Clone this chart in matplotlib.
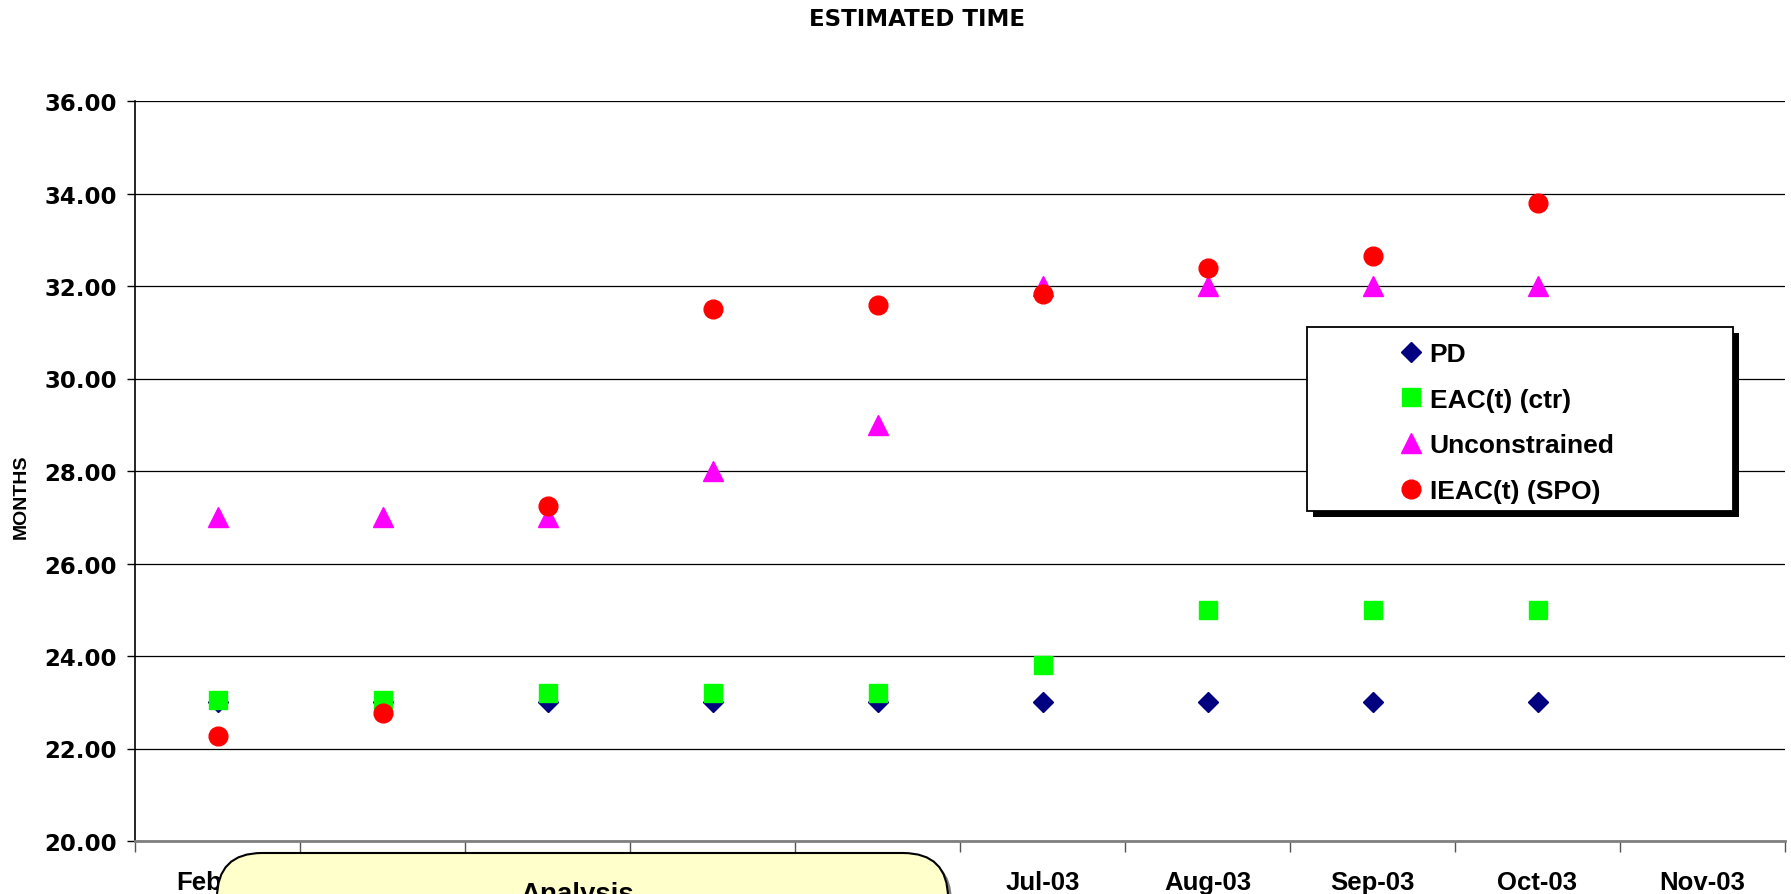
import numpy as np
import matplotlib.pyplot as plt
from matplotlib.patches import Rectangle, FancyBboxPatch
from matplotlib.transforms import IdentityTransform

months = ['Feb-03', 'Mar-03', 'Apr-03', 'May-03', 'Jun-03',
          'Jul-03', 'Aug-03', 'Sep-03', 'Oct-03', 'Nov-03']
pd_vals = [23.0, 23.0, 23.0, 23.0, 23.0, 23.0, 23.0, 23.0, 23.0]
eac_vals = [23.05, 23.05, 23.2, 23.2, 23.2, 23.8, 25.0, 25.0, 25.0]
unc_vals = [27.0, 27.0, 27.0, 28.0, 29.0, 32.0, 32.0, 32.0, 32.0]
ieac_vals = [22.27, 22.77, 27.25, 31.5, 31.58, 31.83, 32.4, 32.65, 33.8]

W, H = 1791, 895
fig = plt.figure(figsize=(W / 100, H / 100), dpi=100)
ax = fig.add_axes([135 / W, (H - 842) / H, 1650 / W, 740 / H])

ax.plot(range(len(pd_vals)), pd_vals, 'D', color='#000080', ms=10.5, label='PD', zorder=3)
ax.plot(range(len(eac_vals)), eac_vals, 's', color='#00FF00', ms=13.5, label='EAC(t) (ctr)', zorder=3)
ax.plot(range(len(unc_vals)), unc_vals, '^', color='#FF00FF', ms=15, label='Unconstrained', zorder=3)
ax.plot(range(len(ieac_vals)), ieac_vals, 'o', color='#FF0000', ms=13.5, label='IEAC(t) (SPO)', zorder=3)

ax.set_ylim(20, 36)
ax.set_xlim(-0.5, len(months) - 0.5)
ax.set_yticks(np.arange(20, 37, 2))
ax.set_yticklabels(['%.2f' % v for v in np.arange(20, 37, 2)],
                   fontfamily='DejaVu Sans', fontweight='bold', fontsize=16.5)
ax.yaxis.grid(True, color='black', lw=0.9)
ax.set_axisbelow(True)
ax.tick_params(axis='y', length=6, width=1, pad=7)

ax.set_xticks(range(len(months)))
ax.set_xticklabels(months, fontfamily='Liberation Sans', fontweight='bold', fontsize=18.5)
ax.set_xticks(np.arange(-0.5, len(months)), minor=True)
ax.tick_params(axis='x', which='major', length=0, pad=21)
ax.tick_params(axis='x', which='minor', length=8, width=1, color='#555555')

for s in ['top', 'right']:
    ax.spines[s].set_visible(False)
ax.spines['bottom'].set_color('#808080')
ax.spines['bottom'].set_linewidth(2)
ax.spines['left'].set_linewidth(1.2)

fig.text(917 / W, 1 - 20 / H, 'ESTIMATED TIME', ha='center', va='center',
         fontfamily='DejaVu Sans', fontweight='bold', fontsize=16.5)
fig.text(21 / W, (H - 497) / H, 'MONTHS', rotation=90, ha='center', va='center',
         fontfamily='Liberation Sans', fontweight='bold', fontsize=14)

# legend box with hard shadow (Excel style)
x0, x1 = (1307 - 135) / 1650, (1733 - 135) / 1650
y0, y1 = (842 - 512) / 740, (842 - 328) / 740
ax.add_patch(Rectangle((x0 + 6 / 1650, y0 - 6 / 740), x1 - x0, y1 - y0, transform=ax.transAxes,
                       facecolor='black', edgecolor='none', clip_on=False, zorder=4))
ax.add_patch(Rectangle((x0, y0), x1 - x0, y1 - y0, transform=ax.transAxes,
                       facecolor='white', edgecolor='black', lw=1.3, clip_on=False, zorder=4.5))
leg = ax.legend(loc='upper left', bbox_to_anchor=((1398 - 135) / 1650, (842 - 343) / 740),
                frameon=False, borderpad=0, borderaxespad=0, handlelength=1.0,
                handletextpad=0.2, labelspacing=0.82,
                prop={'family': 'Liberation Sans', 'weight': 'bold', 'size': 19})
leg.set_zorder(5)

# callout box over the lower labels
fig.patches.append(FancyBboxPatch((221, -200), 731, 200 + 41 - 4,
                                  boxstyle='round,pad=0,rounding_size=45',
                                  transform=IdentityTransform(), facecolor='#808080',
                                  edgecolor='none', zorder=5, figure=fig))
fig.patches.append(FancyBboxPatch((217, -200), 731, 200 + 41,
                                  boxstyle='round,pad=0,rounding_size=45',
                                  transform=IdentityTransform(), facecolor='#FFFFCC',
                                  edgecolor='black', lw=1.5, zorder=6, figure=fig))
fig.text(577 / W, -7 / H, 'Analysis', ha='center', va='baseline', zorder=7,
         fontfamily='Liberation Sans', fontweight='bold', fontsize=20)

fig.savefig('out.png', dpi=100)
